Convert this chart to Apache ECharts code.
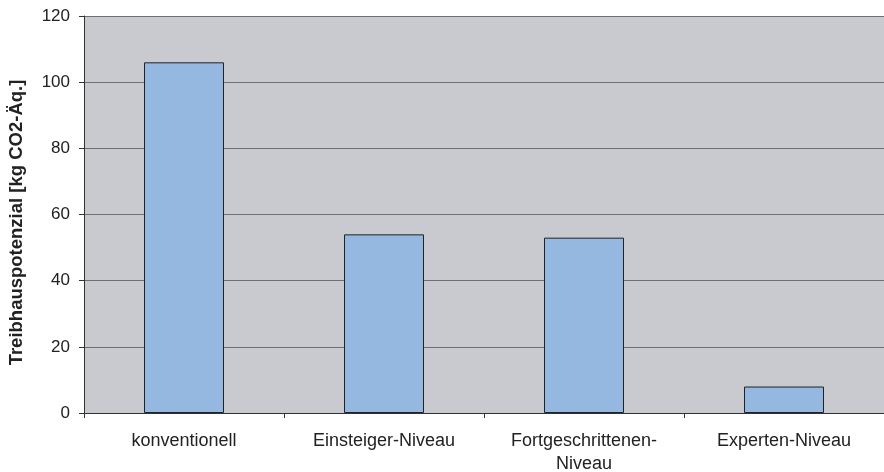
<!DOCTYPE html>
<html>
<head>
<meta charset="utf-8">
<script src="https://cdn.jsdelivr.net/npm/echarts@6/dist/echarts.min.js"></script>
<style>html,body{margin:0;padding:0;background:#fff}#c{width:884px;height:472px}</style>
</head>
<body>
<div id="c"></div>
<script>
const categories = ['konventionell', 'Einsteiger-Niveau', 'Fortgeschrittenen-\nNiveau', 'Experten-Niveau'];
const values = [106, 54, 53, 8];
const yAxisName = 'Treibhauspotenzial [kg CO2-Äq.]';

const chart = echarts.init(document.getElementById('c'), null, {renderer: 'canvas'});
chart.setOption({
  animation: false,
  backgroundColor: '#ffffff',
  grid: {left: 84, right: 0, top: 16, bottom: 59, containLabel: false, outerBoundsMode: 'none',
         backgroundColor: '#c9cacf', show: true, borderWidth: 0},
  xAxis: {
    type: 'category',
    data: categories,
    boundaryGap: true,
    axisLine: {lineStyle: {color: '#333', width: 1}},
    axisTick: {show: true, length: 5, lineStyle: {color: '#333'}},
    axisLabel: {fontFamily: 'Liberation Sans, Arial', fontSize: 18, color: '#222', margin: 17, lineHeight: 23, interval: 0}
  },
  yAxis: {
    type: 'value',
    min: 0, max: 120, interval: 20,
    name: yAxisName,
    nameLocation: 'middle',
    nameGap: 58,
    nameTextStyle: {fontFamily: 'Liberation Sans, Arial', fontSize: 18.5, fontWeight: 'bold', color: '#222',
                    padding: [0, 16, 0, 0]},
    axisLine: {show: true, lineStyle: {color: '#333', width: 1}},
    axisTick: {show: true, length: 5, lineStyle: {color: '#333'}},
    axisLabel: {fontFamily: 'Liberation Sans, Arial', fontSize: 17, color: '#222', margin: 14},
    splitLine: {show: true, lineStyle: {color: '#6e6f72', width: 1}}
  },
  series: [{
    type: 'bar',
    data: values,
    barWidth: '40%',
    itemStyle: {color: '#95b8e1', borderColor: '#222', borderWidth: 1}
  }]
});
</script>
</body>
</html>
